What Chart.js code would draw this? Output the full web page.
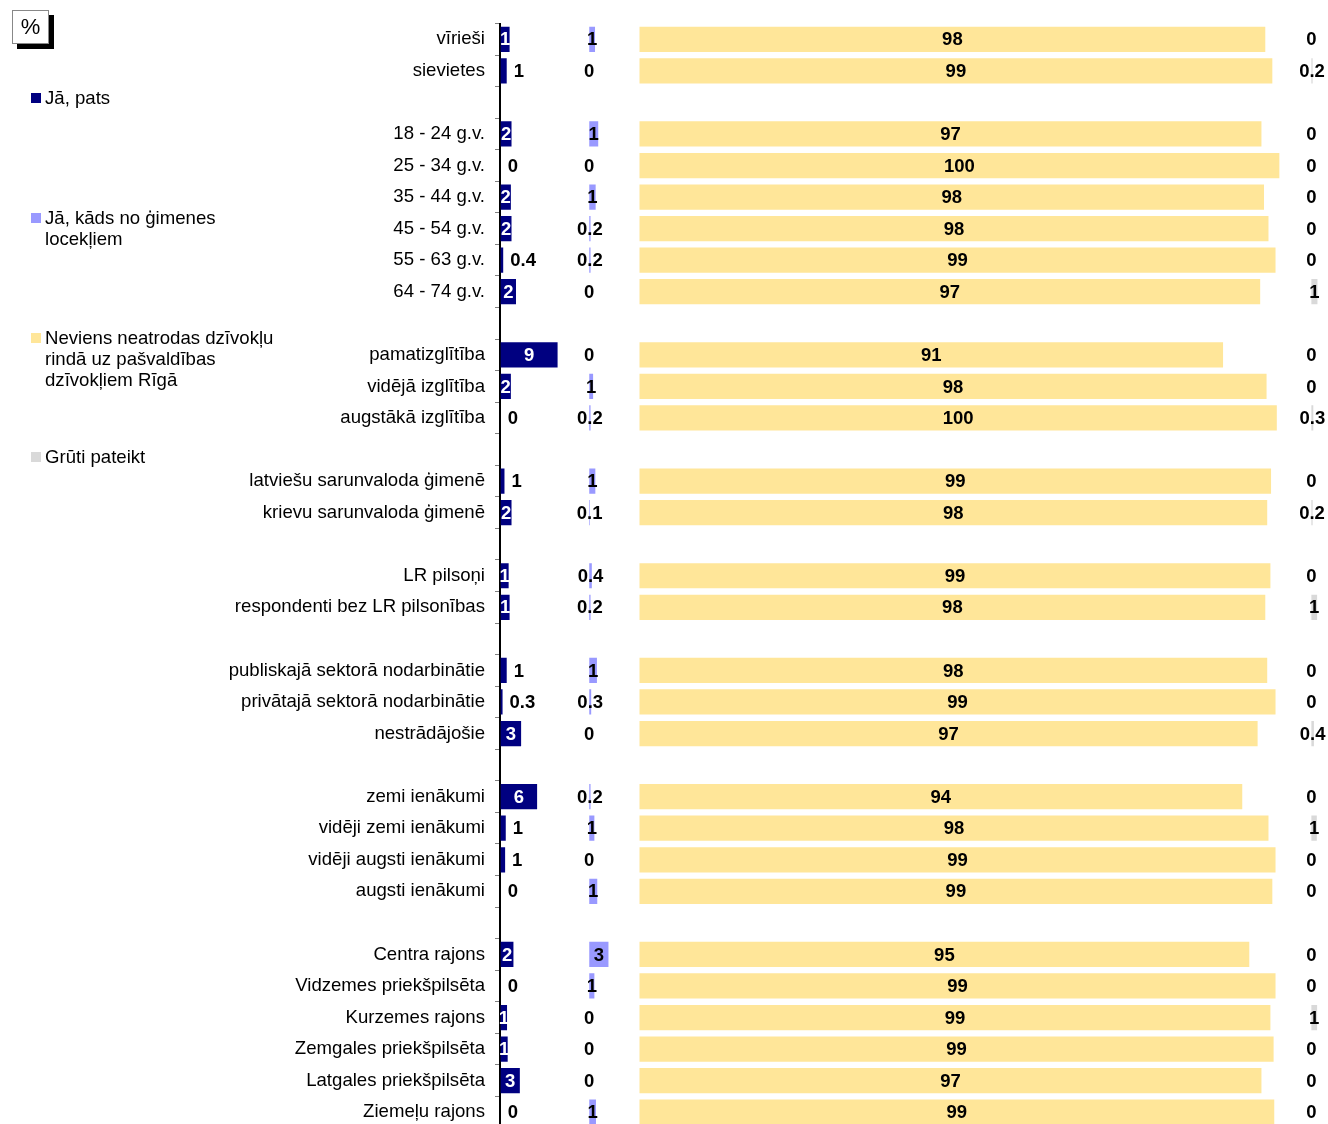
<!DOCTYPE html>
<html lang="lv">
<head>
<meta charset="utf-8">
<title>Dzīvokļu rinda</title>
<script src="https://cdn.jsdelivr.net/npm/chart.js@4/dist/chart.umd.min.js"></script>
<style>
  html, body { margin: 0; padding: 0; background: #fff; overflow: hidden; }
  #wrap { position: relative; width: 1328px; height: 1124px; overflow: hidden; }
  #c { display: block; position: absolute; left: 0; top: 0; }
  #unit {
    position: absolute; left: 12px; top: 10px; width: 35px; height: 32px;
    background: #fff; border: 1px solid #888; box-shadow: 5px 5px 0 #000;
    font: 22px "Liberation Sans", Arial, sans-serif; color: #000;
    text-align: center; line-height: 31px;
  }
  #legend {
    position: absolute; left: 31px; top: 87px;
    font: 18.6px "Liberation Sans", Arial, sans-serif; color: #000; line-height: 21px;
  }
  .item { position: absolute; left: 0; width: 270px; }
  .sw { position: absolute; left: 0; top: 6px; width: 10px; height: 10px; }
  .txt { position: absolute; left: 14px; width: 245px; }
</style>
</head>
<body>
<div id="wrap">
  <canvas id="c" width="1328" height="1128"></canvas>
  <div id="unit">%</div>
  <div id="legend"></div>
</div>
<script>
// Respondent groups; empty strings are spacer rows between the group blocks
const categories = [
  'vīrieši', 'sievietes', '',
  '18 - 24 g.v.', '25 - 34 g.v.', '35 - 44 g.v.', '45 - 54 g.v.', '55 - 63 g.v.', '64 - 74 g.v.', '',
  'pamatizglītība', 'vidējā izglītība', 'augstākā izglītība', '',
  'latviešu sarunvaloda ģimenē', 'krievu sarunvaloda ģimenē', '',
  'LR pilsoņi', 'respondenti bez LR pilsonības', '',
  'publiskajā sektorā nodarbinātie', 'privātajā sektorā nodarbinātie', 'nestrādājošie', '',
  'zemi ienākumi', 'vidēji zemi ienākumi', 'vidēji augsti ienākumi', 'augsti ienākumi', '',
  'Centra rajons', 'Vidzemes priekšpilsēta', 'Kurzemes rajons', 'Zemgales priekšpilsēta', 'Latgales priekšpilsēta', 'Ziemeļu rajons'
];

const seriesNames = [
  'Jā, pats',
  'Jā, kāds no ģimenes locekļiem',
  'Neviens neatrodas dzīvokļu rindā uz pašvaldības dzīvokļiem Rīgā',
  'Grūti pateikt'
];

// Shares in %, one value per row (null on spacer rows)
const selfValues = [
  1.4, 0.95, null,
  1.7, 0, 1.6, 1.7, 0.4, 2.4, null,
  8.9, 1.6, 0, null,
  0.6, 1.7, null,
  1.25, 1.4, null,
  0.95, 0.3, 3.2, null,
  5.7, 0.8, 0.7, 0, null,
  2.0, 0, 1.0, 1.1, 3.0, 0
];
const familyValues = [
  0.9, 0, null,
  1.4, 0, 1.0, 0.2, 0.2, 0, null,
  0, 0.6, 0.2, null,
  0.95, 0.1, null,
  0.4, 0.2, null,
  1.2, 0.3, 0, null,
  0.2, 0.8, 0, 1.25, null,
  3.0, 0.8, 0, 0, 0, 1.05
];
const noneValues = [
  97.8, 98.9, null,
  97.2, 100, 97.6, 98.3, 99.4, 97.0, null,
  91.2, 98.0, 99.6, null,
  98.7, 98.1, null,
  98.6, 97.8, null,
  98.1, 99.4, 96.6, null,
  94.2, 98.3, 99.4, 98.9, null,
  95.3, 99.4, 98.6, 99.1, 97.2, 99.2
];
const hardToSayValues = [
  0, 0.2, null,
  0, 0, 0, 0, 0, 0.95, null,
  0, 0, 0.3, null,
  0, 0.2, null,
  0, 0.9, null,
  0, 0, 0.4, null,
  0, 0.85, 0, 0, null,
  0, 0, 0.9, 0, 0, 0
];

const seriesValues = [selfValues, familyValues, noneValues, hardToSayValues];
const seriesColors = ['#000080', '#9999FF', '#FFE699', '#D9D9D9'];

// Each answer gets its own column on the shared % axis
const columnStart = [0.1, 13.95, 21.8, 126.8];
const axisMax = 129.4;

const FONT = '"Liberation Sans", Arial, sans-serif';

function fmt(v) {
  if (v === 0) return '0';
  if (v < 0.5) return v.toFixed(1);
  return String(Math.round(v));
}

const datasets = seriesValues.map((vals, s) => ({
  label: seriesNames[s],
  data: vals.map(v => v === null ? null : [columnStart[s], columnStart[s] + v]),
  backgroundColor: seriesColors[s],
  borderWidth: 0
}));

// Value labels: white inside wide dark bars, otherwise black
const valueLabels = {
  id: 'valueLabels',
  afterDatasetsDraw(chart) {
    const ctx = chart.ctx;
    ctx.save();
    ctx.font = 'bold 18.5px ' + FONT;
    ctx.textBaseline = 'middle';
    chart.data.datasets.forEach((ds, s) => {
      const meta = chart.getDatasetMeta(s);
      meta.data.forEach((el, i) => {
        const v = seriesValues[s][i];
        if (v === null || v === undefined) return;
        const text = fmt(v);
        const left = Math.min(el.x, el.base);
        const right = Math.max(el.x, el.base);
        const y = el.y + 1;
        if (s === 0) {
          if (v >= 1) {
            ctx.fillStyle = '#fff';
            ctx.textAlign = 'center';
            ctx.fillText(text, (left + right) / 2, y);
          } else {
            ctx.fillStyle = '#000';
            ctx.textAlign = 'left';
            ctx.fillText(text, right + 7, y);
          }
        } else {
          ctx.fillStyle = '#000';
          ctx.textAlign = 'center';
          ctx.fillText(text, (left + right) / 2, y);
        }
      });
    });
    ctx.restore();
  }
};

new Chart(document.getElementById('c'), {
  type: 'bar',
  data: { labels: categories, datasets },
  options: {
    indexAxis: 'y',
    responsive: false,
    animation: false,
    devicePixelRatio: 1,
    layout: { padding: { top: 23.5, right: 0, bottom: 0, left: 0 } },
    datasets: {
      bar: { grouped: false, categoryPercentage: 1, barPercentage: 0.8 }
    },
    plugins: { legend: { display: false }, tooltip: { enabled: false } },
    scales: {
      x: { type: 'linear', display: false, min: 0, max: axisMax },
      y: {
        type: 'category',
        offset: true,
        grid: {
          display: true, drawOnChartArea: false, drawTicks: true,
          tickLength: 5, color: '#808080', lineWidth: 1, offset: true
        },
        border: { display: true, color: '#000', width: 2 },
        ticks: {
          autoSkip: false, color: '#000', padding: 10,
          font: { family: FONT, size: 18.6 }
        },
        afterFit(scale) {
          scale.width = 500;
          scale.paddingTop = 0;
          scale.paddingBottom = 0;
        }
      }
    }
  },
  plugins: [valueLabels]
});

// Legend on the left, items spread down the panel
const legend = document.getElementById('legend');
seriesNames.forEach((name, s) => {
  const item = document.createElement('div');
  item.className = 'item';
  item.style.top = (s * 119.8) + 'px';
  const sw = document.createElement('div');
  sw.className = 'sw';
  sw.style.background = seriesColors[s];
  const txt = document.createElement('div');
  txt.className = 'txt';
  txt.textContent = name;
  item.appendChild(sw);
  item.appendChild(txt);
  legend.appendChild(item);
});
</script>
</body>
</html>
